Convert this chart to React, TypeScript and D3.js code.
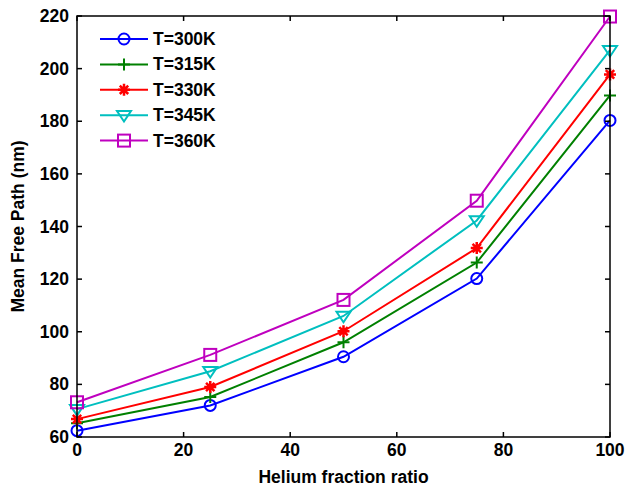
import React, { useEffect, useRef } from "react";
import * as d3 from "d3";

const helium = [0, 25, 50, 75, 100];
const t300 = [62.4, 72, 90.5, 120.2, 180.3];
const t315 = [65.2, 75.2, 96, 126.3, 189.8];
const t330 = [66.8, 79, 100.2, 131.8, 197.8];
const t345 = [70.6, 85, 106, 142.3, 207];
const t360 = [73.2, 91.2, 112.1, 149.8, 219.8];
const seriesNames = ["T=300K", "T=315K", "T=330K", "T=345K", "T=360K"];
const seriesColors = ["#0000ff", "#008000", "#ff0000", "#00bfbf", "#bf00bf"];
const seriesMarkers = ["circle", "plus", "star", "triDown", "square"];
const xTicks = [0, 20, 40, 60, 80, 100];
const yTicks = [60, 80, 100, 120, 140, 160, 180, 200, 220];

function drawMarker(g: any, kind: string, x: number, y: number, color: string) {
  if (kind === "circle") {
    g.append("circle").attr("cx", x).attr("cy", y).attr("r", 5.5)
      .attr("fill", "none").attr("stroke", color).attr("stroke-width", 2);
  } else if (kind === "plus") {
    g.append("path").attr("d", `M${x - 6},${y}H${x + 6}M${x},${y - 6}V${y + 6}`)
      .attr("stroke", color).attr("stroke-width", 2);
  } else if (kind === "star") {
    const s = 6;
    const d = s * 0.7;
    g.append("path")
      .attr("d", `M${x - s},${y}H${x + s}M${x},${y - s}V${y + s}M${x - d},${y - d}L${x + d},${y + d}M${x - d},${y + d}L${x + d},${y - d}`)
      .attr("stroke", color).attr("stroke-width", 2.5);
  } else if (kind === "triDown") {
    const s = 7;
    g.append("path")
      .attr("d", `M${x - s},${y - s * 0.6}L${x + s},${y - s * 0.6}L${x},${y + s * 0.9}Z`)
      .attr("fill", "none").attr("stroke", color).attr("stroke-width", 2);
  } else if (kind === "square") {
    g.append("rect").attr("x", x - 6).attr("y", y - 6).attr("width", 12).attr("height", 12)
      .attr("fill", "none").attr("stroke", color).attr("stroke-width", 2);
  }
}

export default function App() {
  const ref = useRef<SVGSVGElement>(null);

  useEffect(() => {
    const svg = d3.select(ref.current);
    svg.selectAll("*").remove();

    const left = 77, right = 610, top = 16, bottom = 437;
    const x = d3.scaleLinear().domain([0, 100]).range([left, right]);
    const y = d3.scaleLinear().domain([60, 220]).range([bottom, top]);
    const font = "'Liberation Sans', Arial, sans-serif";
    const tick = 5;

    // Series
    const all = [t300, t315, t330, t345, t360];
    const line = d3.line<number>().x((_, i) => x(helium[i])).y((d) => y(d));
    all.forEach((vals, s) => {
      const g = svg.append("g");
      g.append("path").attr("d", line(vals)).attr("fill", "none")
        .attr("stroke", seriesColors[s]).attr("stroke-width", 2);
      vals.forEach((v, i) => drawMarker(g, seriesMarkers[s], x(helium[i]), y(v), seriesColors[s]));
    });

    // Box and ticks
    const axes = svg.append("g").attr("stroke", "#000").attr("stroke-width", 1.5);
    axes.append("rect").attr("x", left).attr("y", top).attr("width", right - left)
      .attr("height", bottom - top).attr("fill", "none");
    xTicks.forEach((t) => {
      axes.append("line").attr("x1", x(t)).attr("x2", x(t)).attr("y1", bottom).attr("y2", bottom - tick);
      axes.append("line").attr("x1", x(t)).attr("x2", x(t)).attr("y1", top).attr("y2", top + tick);
    });
    yTicks.forEach((t) => {
      axes.append("line").attr("x1", left).attr("x2", left + tick).attr("y1", y(t)).attr("y2", y(t));
      axes.append("line").attr("x1", right).attr("x2", right - tick).attr("y1", y(t)).attr("y2", y(t));
    });

    // Tick labels
    const labels = svg.append("g").attr("font-family", font).attr("font-weight", "bold")
      .attr("font-size", 17.5).attr("fill", "#000");
    xTicks.forEach((t) => {
      labels.append("text").attr("x", x(t)).attr("y", bottom + 19).attr("text-anchor", "middle").text(t);
    });
    yTicks.forEach((t) => {
      labels.append("text").attr("x", left - 8).attr("y", y(t) + 6).attr("text-anchor", "end").text(t);
    });

    // Axis titles
    labels.append("text").attr("x", (left + right) / 2).attr("y", 483)
      .attr("text-anchor", "middle").text("Helium fraction ratio");
    labels.append("text").attr("transform", `translate(24,${(top + bottom) / 2}) rotate(-90)`)
      .attr("text-anchor", "middle").text("Mean Free Path (nm)");

    // Legend
    seriesNames.forEach((name, s) => {
      const ly = 39 + s * 25.4;
      const g = svg.append("g");
      g.append("line").attr("x1", 100).attr("x2", 148).attr("y1", ly).attr("y2", ly)
        .attr("stroke", seriesColors[s]).attr("stroke-width", 2);
      drawMarker(g, seriesMarkers[s], 124, ly, seriesColors[s]);
      g.append("text").attr("x", 153).attr("y", ly + 6).attr("font-family", font)
        .attr("font-weight", "bold").attr("font-size", 17.5).text(name);
    });
  }, []);

  return (
    <svg ref={ref} width={627} height={490}
      style={{ position: "absolute", left: 0, top: 0, background: "#fff" }} />
  );
}
